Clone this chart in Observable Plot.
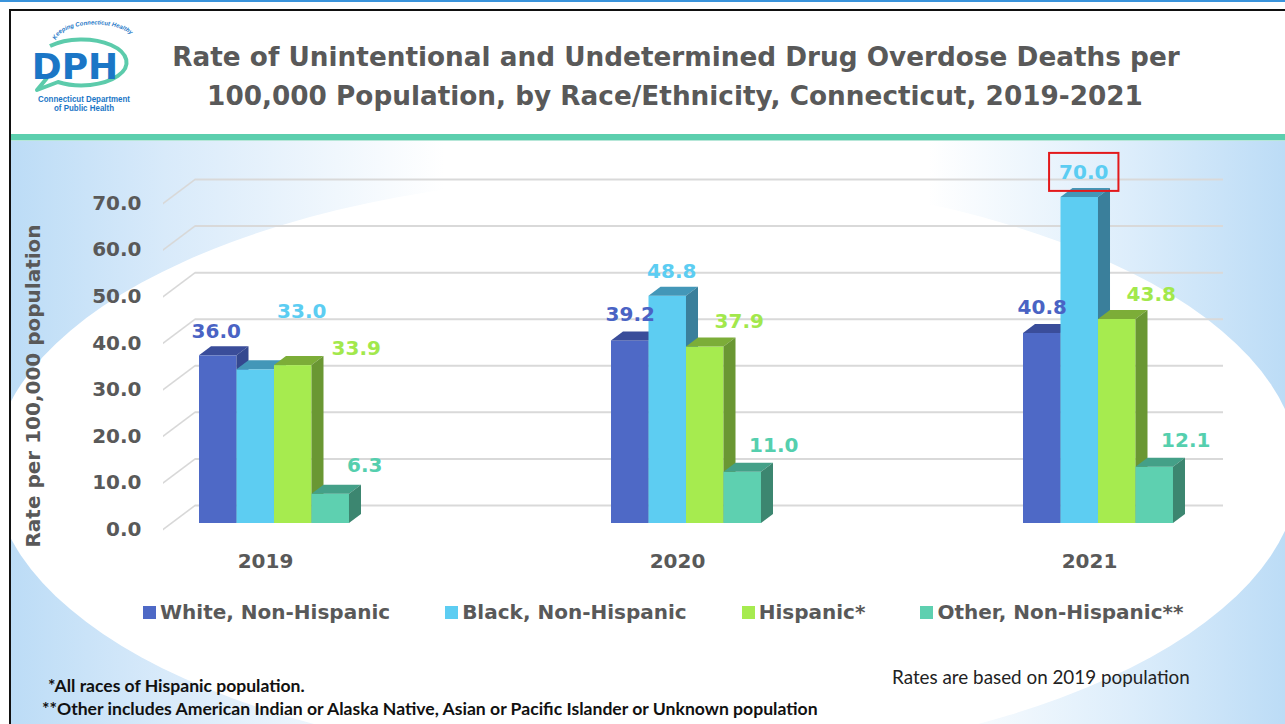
<!DOCTYPE html>
<html>
<head>
<meta charset="utf-8">
<script src="https://cdn.jsdelivr.net/npm/d3@7"></script>
<script src="https://cdn.jsdelivr.net/npm/@observablehq/plot@0.6"></script>
<style>
html, body { margin: 0; padding: 0; background: #fff; }
#page { position: relative; width: 1285px; height: 724px; overflow: hidden; background: #fff; font-family: "DejaVu Sans", sans-serif; }
.abs { position: absolute; }
#topline { left: 0; top: 0; width: 1285px; height: 2px; background: #3a94dc; }
#frameL { left: 9px; top: 9px; width: 2px; height: 715px; background: #111; }
#frameT { left: 9px; top: 9px; width: 1276px; height: 2px; background: #111; }
#band { left: 11px; top: 134px; width: 1274px; height: 6px; background: #5ccfae; }
#bandlight { left: 11px; top: 140px; width: 1274px; height: 1px; background: #b6e7d8; }
#bg { left: 11px; top: 141px; width: 1274px; height: 583px; overflow: hidden;
  background: linear-gradient(to right, #bcdcf6 0%, #d8eafa 12%, #ffffff 34%, #ffffff 72%, #dcedfb 88%, #bcdcf6 100%); }
#ellipse { position: absolute; left: -18px; top: 34px; width: 1306px; height: 590px; border-radius: 50%; background: #fff; }
#header { left: 0; top: 0; }
#chart { left: 0; top: 140px; }
#ylabel { left: -167px; top: 374px; width: 400px; height: 24px; line-height: 24px; text-align: center;
  transform: rotate(-90deg); font-weight: bold; font-size: 20px; color: #595959; white-space: nowrap; }
#legend { left: 143px; top: 600px; display: flex; gap: 55px; align-items: center; }
.item { display: flex; align-items: center; gap: 4px; font-weight: bold; font-size: 20px; line-height: 24px; color: #595959; white-space: nowrap; }
.sw { width: 13px; height: 13px; }
.fn { font-family: Lato, "Liberation Sans", sans-serif; white-space: nowrap; line-height: 18px; }
#fn1 { left: 48px; top: 677px; font-weight: bold; font-size: 15px; color: #111; }
#fn2 { left: 42px; top: 700px; font-weight: bold; font-size: 15px; color: #111; }
#note { left: 892px; top: 668px; font-size: 16px; color: #222; }
</style>
</head>
<body>
<div id="page">
  <div id="bg" class="abs"><div id="ellipse"></div></div>
  <div id="topline" class="abs"></div>
  <div id="frameL" class="abs"></div>
  <div id="frameT" class="abs"></div>
  <div id="band" class="abs"></div>
  <div id="bandlight" class="abs"></div>
  <svg id="header" class="abs" width="1285" height="134" xmlns="http://www.w3.org/2000/svg">
    <defs>
      <path id="arcText" d="M 56 40 A 38 17 0 0 1 134 44" fill="none"/>
    </defs>
    <path d="M 50 46 A 45 23 0 1 1 58 82 L 37 90 L 47 78" fill="none" stroke="#5ccbab" stroke-width="4" stroke-linejoin="round"/>
    <text x="75" y="79" text-anchor="middle" font-family="DejaVu Sans" font-weight="bold" font-size="36" fill="#1b76c6">DPH</text>
    <text font-family="Liberation Sans, sans-serif" font-weight="bold" font-style="italic" font-size="6" fill="#1b76c6">
      <textPath href="#arcText" textLength="82" lengthAdjust="spacingAndGlyphs">Keeping Connecticut Healthy</textPath>
    </text>
    <text x="84" y="102" text-anchor="middle" font-family="Liberation Sans, sans-serif" font-weight="bold" font-size="8.5" fill="#1b76c6" textLength="92" lengthAdjust="spacingAndGlyphs">Connecticut Department</text>
    <text x="84" y="111" text-anchor="middle" font-family="Liberation Sans, sans-serif" font-weight="bold" font-size="8.5" fill="#1b76c6" textLength="60" lengthAdjust="spacingAndGlyphs">of Public Health</text>
    <text id="t1" x="676" y="66" text-anchor="middle" font-family="DejaVu Sans" font-weight="bold" font-size="27" fill="#595959">Rate of Unintentional and Undetermined Drug Overdose Deaths per</text>
    <text id="t2" x="675" y="105" text-anchor="middle" font-family="DejaVu Sans" font-weight="bold" font-size="27" fill="#595959">100,000 Population, by Race/Ethnicity, Connecticut, 2019-2021</text>
  </svg>
  <div id="chart" class="abs"></div>
  <div id="ylabel" class="abs">Rate per 100,000 population</div>
  <div id="legend" class="abs"></div>
  <div id="fn1" class="abs fn">*All races of Hispanic population.</div>
  <div id="fn2" class="abs fn">**Other includes American Indian or Alaska Native, Asian or Pacific Islander or Unknown population</div>
  <div id="note" class="abs fn">Rates are based on 2019 population</div>
</div>
<script>
// ---------------- data ----------------
const years = ["2019", "2020", "2021"];
const races = ["White, Non-Hispanic", "Black, Non-Hispanic", "Hispanic*", "Other, Non-Hispanic**"];
const whiteNH = [36.0, 39.2, 40.8];
const blackNH = [33.0, 48.8, 70.0];
const hispanic = [33.9, 37.9, 43.8];
const otherNH = [6.3, 11.0, 12.1];
const yTicks = [0, 10, 20, 30, 40, 50, 60, 70];

// ---------------- styles ----------------
const frontColors = ["#4e69c6", "#5dcdf2", "#a6eb4f", "#5ed0b0"];
const topColors   = ["#3a4d9a", "#4397b8", "#7cad38", "#44a088"];
const sideColors  = ["#34488f", "#3a7f9b", "#6a9733", "#3c8670"];
const labelColors = ["#4a63c4", "#5ccdf2", "#a2e84c", "#55cfae"];
const labelShift     = [[0, -26], [4, -25], [34, -25], [31, -27]];   // 2020, 2021
const labelShift2019 = [[-2, -24], [46, -58], [63, -17], [34, -29]]; // 2019 (moved labels)
const gridColor = "#d9d9d9", diagColor = "#d8d8d8";

const series = [whiteNH, blackNH, hispanic, otherNH];
const rows = races.flatMap((race, i) => years.map((year, j) => ({race, year, value: series[i][j], ri: i})));

const W = 1285, H = 440, mL = 163, mR = 94, mT = 63, mB = 51;
const DEPTH_X = 32, DEPTH_Y = 24;
const BAR_DX = 9, BAR_DY = -6, SIDE = 12, TOPH = 9;
const xOpts = {type: "band", domain: years, paddingInner: 0.636, paddingOuter: 0.0655};
const bw = Plot.scale({x: {...xOpts, range: [mL, W - mR]}}).bandwidth;
const q = bw / 4;

const marks = [
  Plot.ruleY(yTicks, {stroke: gridColor, strokeWidth: 2, dx: DEPTH_X, dy: -DEPTH_Y}),
  Plot.ruleY(yTicks, {stroke: diagColor, strokeWidth: 2, insetRight: (W - mL - mR) - DEPTH_X})
];
races.forEach((race, i) => {
  const d = rows.filter(r => r.ri === i);
  const inL = i * q, inR = (3 - i) * q;
  marks.push(
    Plot.barY(d, {x: "year", y: "value", fill: frontColors[i], insetLeft: inL, insetRight: inR, dx: BAR_DX, dy: BAR_DY}),
    Plot.barY(d, {x: "year", y1: "value", y2: "value", insetTop: -TOPH, insetBottom: 0, insetLeft: inL, insetRight: inR,
      fill: topColors[i], dx: BAR_DX, dy: BAR_DY}),
    Plot.barY(d, {x: "year", y: "value", insetLeft: (i + 1) * q, insetRight: bw - (i + 1) * q - SIDE,
      fill: sideColors[i], dx: BAR_DX, dy: BAR_DY})
  );
});
races.forEach((race, i) => {
  const d = rows.filter(r => r.ri === i);
  const base = (i - 1.5) * q + BAR_DX;
  const common = {x: "year", y: "value", text: r => r.value.toFixed(1), fill: labelColors[i],
    fontSize: 20, fontWeight: "bold"};
  marks.push(
    Plot.text(d.filter(r => r.year === "2019"), {...common, dx: base + labelShift2019[i][0], dy: BAR_DY + labelShift2019[i][1]}),
    Plot.text(d.filter(r => r.year !== "2019"), {...common, dx: base + labelShift[i][0], dy: BAR_DY + labelShift[i][1]})
  );
});

const chart = Plot.plot({
  width: W, height: H,
  marginLeft: mL, marginRight: mR, marginTop: mT, marginBottom: mB,
  style: {background: "transparent", fontFamily: "DejaVu Sans", fontSize: "20px", fontWeight: "bold", color: "#595959", overflow: "visible"},
  x: {...xOpts, label: null, tickSize: 0, tickPadding: 24},
  y: {domain: [0, 70], ticks: yTicks, tickFormat: d => d.toFixed(1), label: null, tickSize: 0, tickPadding: 22},
  marks
});
document.getElementById("chart").append(chart);

// 3D faces: skew the side and top rectangles, and the floor diagonals (marks identified by their colour)
const norm = c => d3.color(c).formatHex();
function withFill(colors, sel) {
  const set = new Set(colors.map(norm));
  return [...chart.querySelectorAll("g")].filter(g => {
    const f = g.getAttribute("fill") || g.getAttribute("stroke");
    return f && f !== "none" && f !== "currentColor" && set.has(norm(f));
  }).flatMap(g => [...g.querySelectorAll(sel)]);
}
withFill(sideColors, "rect").forEach(r => {
  const x0 = +r.getAttribute("x");
  r.setAttribute("transform", `translate(${x0} 0) skewY(-36.87) translate(${-x0} 0)`);
});
withFill(topColors, "rect").forEach(r => {
  const y0 = +r.getAttribute("y") + +r.getAttribute("height");
  r.setAttribute("transform", `translate(0 ${y0}) skewX(-53.13) translate(0 ${-y0})`);
});
withFill([diagColor], "line").forEach(l => {
  const x0 = +l.getAttribute("x1");
  l.setAttribute("transform", `translate(${x0} 0) skewY(-36.87) translate(${-x0} 0)`);
});
// red highlight box around the 70.0 label
const hl = [...chart.querySelectorAll("text")].find(t => t.textContent === "70.0" && t.closest("g").getAttribute("fill"));
if (hl) {
  const sb = chart.getBoundingClientRect(), tb = hl.getBoundingClientRect();
  const rect = document.createElementNS("http://www.w3.org/2000/svg", "rect");
  rect.setAttribute("x", tb.left - sb.left - 10);
  rect.setAttribute("y", tb.top - sb.top - 7);
  rect.setAttribute("width", tb.width + 20);
  rect.setAttribute("height", tb.height + 14);
  rect.setAttribute("fill", "none");
  rect.setAttribute("stroke", "#e3191b");
  rect.setAttribute("stroke-width", 2);
  chart.append(rect);
}

// legend
const legend = d3.select("#legend");
races.forEach((race, i) => {
  const it = legend.append("div").attr("class", "item");
  it.append("div").attr("class", "sw").style("background", frontColors[i]);
  it.append("span").text(race);
});

// fit text widths
function fitSvg(id, target) {
  const el = document.getElementById(id);
  const fs = parseFloat(el.getAttribute("font-size"));
  return fs * target / el.getComputedTextLength();
}
const tfs = fitSvg("t1", 1008);
document.getElementById("t1").setAttribute("font-size", tfs);
document.getElementById("t2").setAttribute("font-size", tfs);
function fitHtml(id, target) {
  const el = document.getElementById(id);
  const fs = parseFloat(getComputedStyle(el).fontSize);
  el.style.fontSize = (fs * target / el.getBoundingClientRect().width) + "px";
}
fitHtml("fn2", 776);
fitHtml("fn1", 257);
fitHtml("note", 298);
</script>
</body>
</html>
